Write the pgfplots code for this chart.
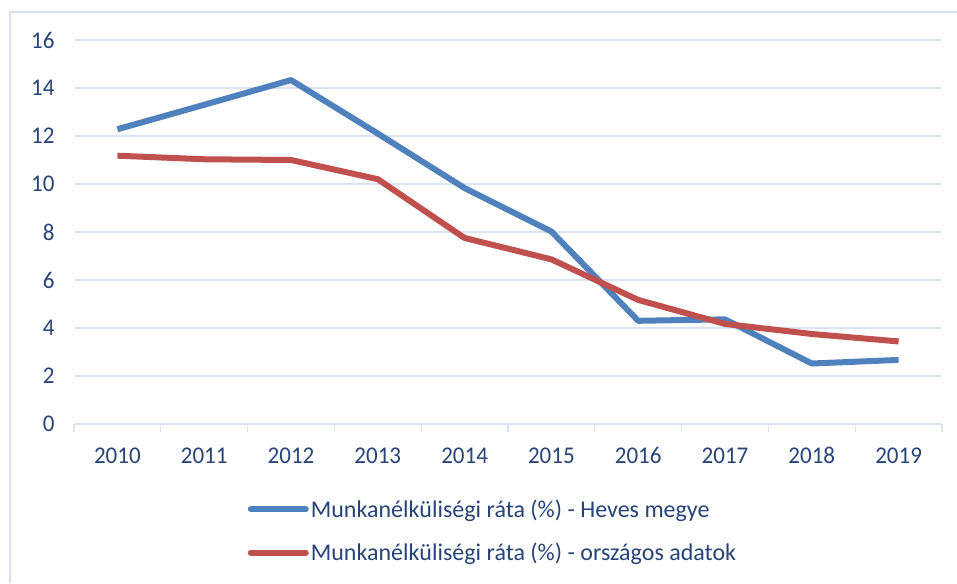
\documentclass[border=0pt]{standalone}
\usepackage{fontspec}
\setmainfont{Carlito}
\newfontfamily\tickfont[FakeStretch=0.96]{Carlito}
\usepackage{pgfplots}
\pgfplotsset{compat=1.18}
\definecolor{txtcol}{RGB}{38,68,120}
\definecolor{gridcol}{RGB}{217,227,242}
\definecolor{bordcol}{RGB}{214,226,243}
\definecolor{blueline}{RGB}{79,129,189}
\definecolor{redline}{RGB}{192,80,77}
\begin{document}
\begin{tikzpicture}
\begin{axis}[
  at={(74pt,159pt)}, anchor=south west,
  scale only axis, width=868pt, height=384pt,
  xmin=-0.5, xmax=9.5, ymin=0, ymax=16,
  xtick={0,...,9},
  xticklabels={2010,2011,2012,2013,2014,2015,2016,2017,2018,2019},
  minor xtick={-0.5,0.5,...,9.5},
  ytick={0,2,...,16},
  axis x line*=bottom, axis y line*=left,
  y axis line style={draw=none},
  x axis line style={draw=gridcol, line width=1.3pt},
  ymajorgrids=true,
  grid style={draw=gridcol, line width=1.3pt},
  major tick length=0pt,
  minor tick length=8pt,
  tick align=outside,
  major x tick style={draw=none},
  major y tick style={draw=none},
  minor x tick style={draw=gridcol, line width=1.3pt},
  /pgf/number format/assume math mode=true,
  tick label style={font=\tickfont\fontsize{24}{28}\selectfont, text=txtcol},
  yticklabel style={xshift=-16pt},
  xticklabel style={yshift=-20pt},
  legend style={draw=none, fill=none, at={(axis description cs:0.2,-0.192)}, anchor=north west,
    font=\fontsize{24}{28}\selectfont, text=txtcol, row sep=20pt, inner sep=0pt},
  legend cell align=left,
  legend image code/.code={\draw[#1, line cap=round] (0pt,0pt) -- (55pt,0pt);},
]
\addplot[blueline, line width=6pt, line join=round] coordinates {
(0,12.28) (1,13.3) (2,14.33) (3,12.1) (4,9.83) (5,8.02) (6,4.3) (7,4.36) (8,2.52) (9,2.67)};
\addlegendentry{Munkanélküliségi ráta (\%) - Heves megye}
\addplot[redline, line width=6pt, line join=round] coordinates {
(0,11.18) (1,11.03) (2,11.0) (3,10.2) (4,7.75) (5,6.86) (6,5.17) (7,4.17) (8,3.75) (9,3.44)};
\addlegendentry{Munkanélküliségi ráta (\%) - országos adatok}
\end{axis}
\draw[bordcol, line width=1.3pt] (10pt,0pt) -- (10pt,571pt) -- (957pt,571pt);
\pgfresetboundingbox
\path[use as bounding box] (0pt,0pt) rectangle (957pt,583pt);
\end{tikzpicture}
\end{document}
